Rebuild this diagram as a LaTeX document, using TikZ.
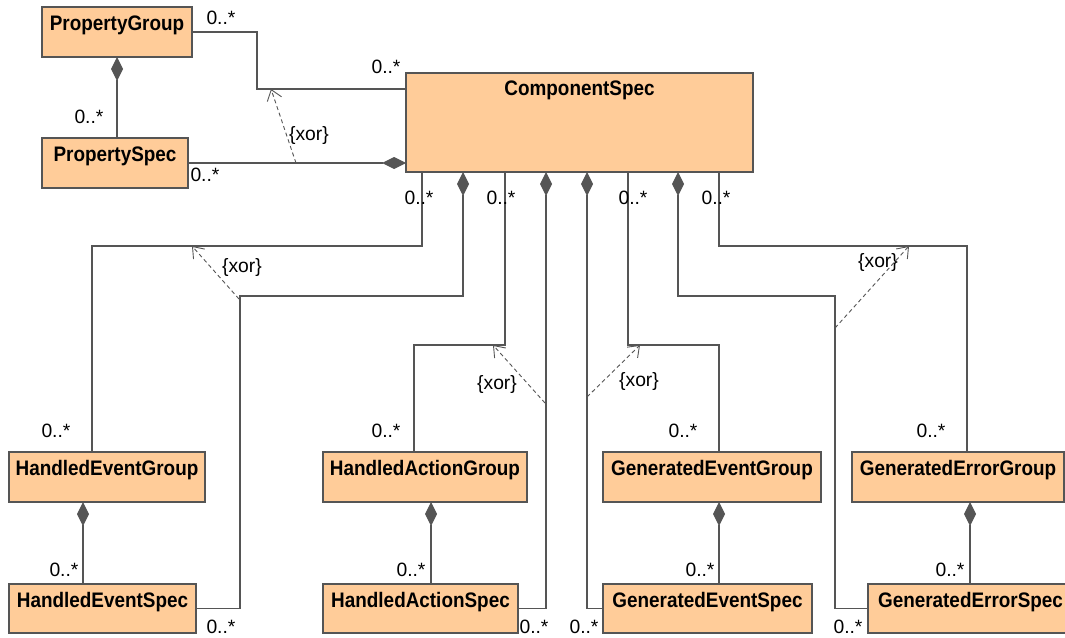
\documentclass[tikz,border=0pt]{standalone}
\usepackage{fontspec}
\setmainfont{Liberation Sans}
\newfontfamily\clsfont[FakeStretch=0.9]{Liberation Sans Bold}
\usetikzlibrary{arrows.meta,calc}
\definecolor{classfill}{RGB}{255,204,153}
\definecolor{edge}{RGB}{85,85,85}
\begin{document}
\begin{tikzpicture}[x=1pt,y=-1pt,
  cls/.style={draw=edge, line width=1.2pt, fill=classfill, anchor=north west, inner sep=0pt, outer sep=0pt},
  clsname/.style={anchor=base, font=\fontsize{21}{24}\clsfont, inner sep=0pt},
  mult/.style={font=\fontsize{19.3}{22}\selectfont, inner sep=0pt},
  conn/.style={draw=edge, line width=1.2pt},
  comp/.style={conn, {Diamond[length=24pt,width=12pt,fill=edge]}-},
  xorarrow/.style={draw=edge, line width=0.9pt, dash pattern=on 4pt off 3pt, -{Straight Barb[length=10pt,width=15pt]}},
]
\useasboundingbox[fill=white] (0,0) rectangle (1065,637);

% classes
\node[cls, minimum width=150pt, minimum height=50pt] (pg) at (42,7) {};
\node[cls, minimum width=146pt, minimum height=50pt] (ps) at (42,138) {};
\node[cls, minimum width=347pt, minimum height=99pt] (cs) at (406,73) {};
\node[cls, minimum width=196pt, minimum height=50pt] (heg) at (9,452) {};
\node[cls, minimum width=187pt, minimum height=49pt] (hes) at (9,584) {};
\node[cls, minimum width=204pt, minimum height=50pt] (hag) at (323,452) {};
\node[cls, minimum width=195pt, minimum height=49pt] (has) at (323,584) {};
\node[cls, minimum width=218pt, minimum height=50pt] (geg) at (603,452) {};
\node[cls, minimum width=209pt, minimum height=49pt] (ges) at (603,584) {};
\node[cls, minimum width=212pt, minimum height=50pt] (gerg) at (852,452) {};
\node[cls, minimum width=205pt, minimum height=49pt] (gers) at (868,584) {};

% class names
\node[clsname] (pgname) at ($(pg.north)+(0,23)$) {PropertyGroup};
\node[clsname] (psname) at ($(ps.north)+(0,23)$) {PropertySpec};
\node[clsname] (csname) at ($(cs.north)+(0,22)$) {ComponentSpec};
\node[clsname] (hegname) at ($(heg.north)+(0,23)$) {HandledEventGroup};
\node[clsname] (hesname) at ($(hes.north)+(0,23)$) {HandledEventSpec};
\node[clsname] (hagname) at ($(hag.north)+(0,23)$) {HandledActionGroup};
\node[clsname] (hasname) at ($(has.north)+(0,23)$) {HandledActionSpec};
\node[clsname] (gegname) at ($(geg.north)+(0,23)$) {GeneratedEventGroup};
\node[clsname] (gesname) at ($(ges.north)+(0,23)$) {GeneratedEventSpec};
\node[clsname] (gergname) at ($(gerg.north)+(0,23)$) {GeneratedErrorGroup};
\node[clsname] (gersname) at ($(gers.north)+(0,23)$) {GeneratedErrorSpec};

% property associations
\draw[conn] (pg.east) -| (257,89) -- ($(cs.north west)+(0,16)$);
\draw[comp] ($(cs.south west)+(0,-9)$) -- (ps.east);
\draw[comp] (pg.south) -- (pg.south |- ps.north);
\draw[xorarrow] (296,163) -- (271,89);
\node[mult] (x1) at (309,136) {\{xor\}};

% associations from ComponentSpec downwards
\draw[conn] ($(cs.south west)+(16,0)$) |- (92,246) -- (92,0 |- heg.north);
\draw[comp] ($(cs.south west)+(57,0)$) |- (240,296) |- (hes.east);
\draw[conn] ($(cs.south west)+(99,0)$) |- (414,345) -- (414,0 |- hag.north);
\draw[comp] ($(cs.south west)+(140,0)$) |- (has.east);
\draw[comp] ($(cs.south west)+(181,0)$) |- (ges.west);
\draw[conn] ($(cs.south west)+(222,0)$) |- (719,345) -- (719,0 |- geg.north);
\draw[comp] ($(cs.south west)+(272,0)$) |- (835,296) |- (gers.west);
\draw[conn] ($(cs.south west)+(313,0)$) |- (967,246) -- (967,0 |- gerg.north);

% group / spec compositions
\draw[comp] (83,0 |- heg.south) -- (83,0 |- hes.north);
\draw[comp] (431,0 |- hag.south) -- (431,0 |- has.north);
\draw[comp] (719,0 |- geg.south) -- (719,0 |- ges.north);
\draw[comp] (970,0 |- gerg.south) -- (970,0 |- gers.north);

% xor constraints
\draw[xorarrow] (239,299) -- (192,246);
\node[mult] (x2) at (242,268) {\{xor\}};
\draw[xorarrow] (545,403) -- (493,345);
\node[mult] (x3) at (497,385) {\{xor\}};
\draw[xorarrow] (587,397) -- (640,345);
\node[mult] (x4) at (639,382) {\{xor\}};
\draw[xorarrow] (835,328) -- (909,246);
\node[mult] (x5) at (878,263) {\{xor\}};

% multiplicities
\node[mult] (m1) at (221,18) {0..*};
\node[mult] (m2) at (386,67) {0..*};
\node[mult] (m3) at (205,175) {0..*};
\node[mult] (m4) at (89,117) {0..*};
\node[mult] (m5) at (419,198) {0..*};
\node[mult] (m6) at (501,198) {0..*};
\node[mult] (m7) at (633,198) {0..*};
\node[mult] (m8) at (716,198) {0..*};
\node[mult] (m9) at (56,431) {0..*};
\node[mult] (m10) at (386,431) {0..*};
\node[mult] (m11) at (683,431) {0..*};
\node[mult] (m12) at (931,431) {0..*};
\node[mult] (m13) at (64,570) {0..*};
\node[mult] (m14) at (411,570) {0..*};
\node[mult] (m15) at (700,570) {0..*};
\node[mult] (m16) at (950,570) {0..*};
\node[mult] (m17) at (221,627) {0..*};
\node[mult] (m18) at (534,627) {0..*};
\node[mult] (m19) at (584,627) {0..*};
\node[mult] (m20) at (848,627) {0..*};
\end{tikzpicture}
\end{document}
